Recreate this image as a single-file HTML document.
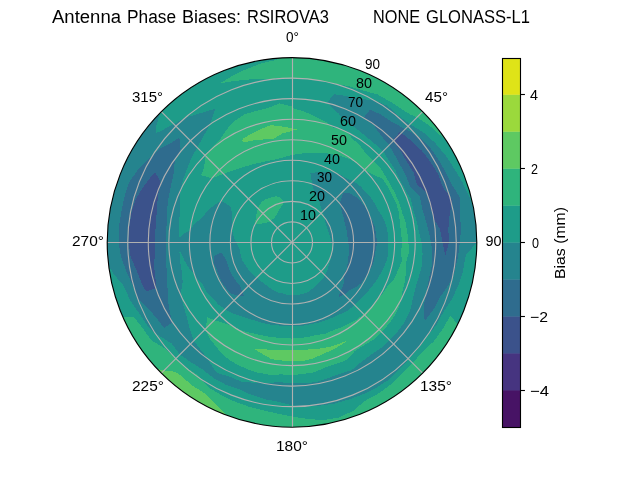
<!DOCTYPE html>
<html><head><meta charset="utf-8"><title>Antenna Phase Biases</title>
<style>
html,body{margin:0;padding:0;background:#fff;}
body{width:640px;height:480px;overflow:hidden;font-family:"Liberation Sans",sans-serif;}
svg{display:block;}
svg text{font-family:"Liberation Sans",sans-serif;fill:#000;}
</style></head><body>
<svg width="640" height="480" viewBox="0 0 640 480">
<rect x="0" y="0" width="640" height="480" fill="#fff"/>
<defs><clipPath id="disc"><circle cx="292.0" cy="242.4" r="184.8"/></clipPath></defs>
<g clip-path="url(#disc)" shape-rendering="crispEdges">
<circle cx="292.0" cy="242.4" r="184.8" fill="#1e9c89"/>
<path fill="#3b528b" fill-rule="evenodd" d="M393.44 140.96L400.78 151.12L406.98 161.89L413.49 172.26L416.76 184.22L427.00 193.07L427.23 193.18L427.49 194.43L429.99 205.43L433.35 217.48L433.77 218.71L440.12 229.44L442.49 242.40L445.41 255.82L445.41 255.82L445.41 255.82L448.81 242.40L448.38 228.72L449.62 214.61L451.73 204.05L451.78 199.59L449.63 196.18L442.90 187.48L438.11 174.27L430.75 162.30L422.25 151.20L412.18 141.56L401.41 132.99L399.46 132.09L393.05 140.18ZM155.54 278.96L154.12 266.71L154.78 254.41L154.87 242.40L155.39 230.45L156.35 218.48L156.94 206.21L158.31 193.74L160.76 183.80L159.87 180.79L155.06 171.95L151.12 176.71L142.49 187.98L135.17 200.38L131.15 214.04L129.25 228.16L128.63 242.40L130.52 256.53L136.36 269.84L141.45 282.74L146.02 291.45L155.75 288.18Z"/>
<path fill="#2f6c8e" fill-rule="evenodd" d="M341.00 208.09L342.35 213.33L343.85 218.22L344.69 223.22L346.16 227.89L346.88 232.72L347.68 237.53L348.30 242.40L349.09 247.39L348.94 252.44L348.42 257.52L347.66 262.66L346.78 267.94L344.55 272.74L343.82 275.70L343.86 278.71L343.39 285.52L340.21 290.61L338.88 296.87L344.22 294.62L349.22 290.41L355.88 287.13L361.71 282.64L365.65 276.74L368.08 273.35L369.44 270.58L373.05 264.12L374.49 256.95L375.79 249.73L377.20 242.40L376.02 235.05L375.11 227.75L372.36 220.87L369.27 214.27L368.55 212.63L365.70 208.03L361.39 202.34L356.43 197.29L350.22 193.55L343.62 192.40L339.97 202.14L339.96 203.74ZM242.36 292.04L240.11 285.94L236.27 281.42L232.91 276.51L230.15 271.24L227.90 265.73L226.11 260.06L222.76 254.61L220.87 252.65L214.09 256.14L213.54 263.42L216.86 269.75L219.06 276.41L222.07 282.77L226.31 288.39L230.79 293.76L238.76 295.64L243.77 295.68ZM400.82 166.21L406.28 176.42L410.50 187.14L415.64 192.14L419.89 195.85L421.87 207.60L425.30 218.90L428.43 230.46L431.05 242.40L432.51 254.69L431.62 267.02L428.86 279.07L426.58 291.38L425.30 296.17L424.16 304.03L424.43 318.86L424.72 320.52L425.82 319.66L434.01 308.62L440.48 296.44L448.87 284.43L452.44 277.65L454.69 271.09L457.89 256.91L459.94 242.40L461.09 227.61L459.67 212.84L459.78 197.44L451.74 184.26L444.98 171.06L437.74 158.25L429.20 146.33L418.33 136.39L416.65 135.41L405.38 129.02L392.63 122.47L381.35 114.79L370.07 109.66L365.35 115.36L363.73 117.84L363.83 117.98L373.95 125.36L381.31 135.97L389.16 145.24L395.22 155.79L398.97 162.58ZM393.05 140.18L399.46 132.09L401.41 132.99L412.18 141.56L422.25 151.20L430.75 162.30L438.11 174.27L442.90 187.48L449.63 196.18L451.78 199.59L451.73 204.05L449.62 214.61L448.38 228.72L448.81 242.40L445.41 255.82L445.41 255.82L445.41 255.82L442.49 242.40L440.12 229.44L433.77 218.71L433.35 217.48L429.99 205.43L427.49 194.43L427.23 193.18L427.00 193.07L416.76 184.22L413.49 172.26L406.98 161.89L400.78 151.12L393.44 140.96ZM167.51 287.71L167.28 275.82L166.10 264.60L165.96 253.43L165.92 242.40L166.33 231.41L166.73 220.31L167.13 208.94L168.61 197.49L170.89 186.32L170.97 185.96L173.54 174.01L174.90 160.40L178.46 154.26L180.58 148.91L179.37 137.37L172.46 142.09L158.97 149.25L151.80 156.80L147.89 159.20L137.37 170.29L128.80 183.00L124.23 197.45L121.25 212.29L118.76 227.24L118.54 242.40L121.18 257.34L126.50 271.58L132.51 285.14L136.01 293.88L138.16 298.39L148.78 309.18L157.95 319.79L163.96 327.97L172.59 322.40L169.94 312.87L167.99 300.23L167.87 291.44ZM155.75 288.18L146.02 291.45L141.45 282.74L136.36 269.84L130.52 256.53L128.63 242.40L129.25 228.16L131.15 214.04L135.17 200.38L142.49 187.98L151.12 176.71L155.06 171.95L159.87 180.79L160.76 183.80L158.31 193.74L156.94 206.21L156.35 218.48L155.39 230.45L154.87 242.40L154.78 254.41L154.12 266.71L155.54 278.96Z"/>
<path fill="#25848e" fill-rule="evenodd" d="M324.89 219.37L325.59 223.01L326.53 226.30L327.63 229.43L328.77 232.55L329.88 235.72L330.82 239.00L331.40 242.40L331.87 245.89L332.15 249.48L332.20 250.81L331.97 253.11L331.38 256.73L330.38 260.30L329.24 263.90L328.13 267.70L326.91 271.69L325.00 275.40L322.59 278.86L319.81 282.12L316.66 285.12L313.28 288.03L310.44 290.31L309.64 290.87L305.61 293.19L301.17 294.43L296.59 294.84L292.00 295.29L287.41 294.91L283.00 293.45L278.55 292.59L274.41 290.74L273.70 290.36L270.54 288.42L266.96 285.77L263.46 283.16L259.96 280.58L256.68 277.72L253.50 274.71L250.03 271.79L248.72 270.00L247.50 268.09L244.79 264.42L242.40 260.45L240.72 256.14L240.25 251.52L238.74 247.06L235.87 242.40L234.04 237.33L232.45 231.90L231.86 229.07L231.60 226.22L231.70 220.45L232.45 214.63L230.44 206.86L230.06 205.96L221.12 200.91L220.30 201.01L213.46 205.77L206.93 211.44L203.48 215.90L201.33 218.11L193.51 225.03L190.02 230.58L184.58 233.00L179.16 237.75L178.82 232.50L179.40 222.55L179.63 212.29L179.96 201.62L180.60 190.45L180.56 189.88L183.13 179.54L187.06 168.92L191.32 157.92L196.14 149.53L197.05 147.45L203.33 136.73L209.64 124.78L210.17 124.24L215.19 109.37L215.17 108.93L214.87 108.81L201.36 112.95L186.91 117.16L184.47 118.22L173.67 124.07L159.87 131.53L155.88 133.16L155.59 127.94L160.25 112.82L150.43 123.61L140.62 136.40L131.96 150.00L124.51 164.30L118.34 179.19L113.50 194.57L110.01 210.31L107.90 226.29L107.20 242.40L107.90 258.51L108.59 265.06L113.43 273.89L122.58 284.34L124.22 287.36L130.65 301.13L139.32 313.60L147.57 325.79L154.87 332.83L158.94 335.57L171.55 343.47L179.84 354.56L191.26 362.46L202.89 369.66L213.65 378.11L225.68 384.63L238.63 389.04L251.19 394.72L264.37 399.12L278.06 401.71L292.00 405.19L300.61 406.44L306.37 406.62L320.77 405.58L335.15 403.45L349.17 399.47L362.86 394.36L376.07 388.02L388.34 379.99L398.91 369.82L408.74 359.14L418.13 348.24L426.77 336.77L435.97 325.52L442.98 312.80L451.25 300.36L457.73 286.81L462.74 272.51L465.26 257.56L466.08 255.01L476.80 242.45L476.80 242.40L476.10 226.29L473.99 210.31L473.71 208.73L468.62 195.08L461.61 180.67L453.30 167.18L444.70 154.24L436.99 145.24L434.72 142.47L423.20 132.31L410.05 124.35L398.41 115.59L387.63 105.83L374.35 100.26L374.09 100.22L358.92 98.90L345.34 95.85L334.18 94.29L330.64 98.18L327.02 103.00L328.94 104.55L338.82 113.77L344.17 119.55L348.03 122.23L357.21 129.46L366.14 136.52L374.72 143.82L383.16 151.24L389.22 160.82L395.32 170.06L400.09 179.99L405.16 189.63L410.92 199.12L413.25 209.91L416.44 220.46L418.90 231.30L421.52 242.40L422.55 253.82L422.02 265.33L418.88 276.40L415.55 287.37L412.85 298.75L412.76 299.23L410.19 310.64L405.02 321.54L397.91 331.27L389.70 340.10L380.81 348.23L370.76 354.89L361.14 362.15L351.58 370.17L339.88 373.95L328.32 377.93L316.64 382.14L304.32 383.17L292.00 383.36L279.78 382.13L267.22 382.96L258.85 382.26L254.37 382.82L241.36 381.52L229.40 376.65L216.72 372.78L208.76 361.28L208.30 359.25L201.27 350.52L193.74 340.66L189.50 328.41L189.34 327.69L186.46 316.30L183.38 305.11L180.66 295.15L180.69 294.31L182.71 282.18L181.74 271.94L180.24 262.11L179.45 252.25L179.44 251.58L180.64 252.14L184.83 261.30L190.02 269.72L194.49 274.54L195.93 277.37L202.37 284.19L206.28 291.89L212.52 298.06L218.22 304.31L225.09 309.31L232.47 313.34L233.15 313.63L240.45 316.02L248.08 318.48L255.45 320.77L262.68 322.96L270.01 324.46L277.39 325.26L284.66 326.29L292.00 325.93L299.32 326.03L306.59 325.13L313.73 323.51L320.97 322.00L327.89 319.36L334.92 316.73L341.74 313.43L348.73 310.00L354.63 305.03L360.24 299.66L365.87 294.13L370.71 287.84L375.54 281.87L375.84 281.50L380.12 274.47L384.07 267.07L387.27 259.20L388.11 250.81L388.37 242.40L387.92 234.01L386.24 225.78L383.12 217.99L379.15 211.69L378.66 210.86L374.95 203.72L370.35 197.16L365.15 191.18L359.66 185.63L353.28 181.12L346.02 178.03L339.61 174.40L336.14 173.14L332.40 172.42L324.72 172.22L317.53 172.26L310.64 172.83L310.44 172.94L310.47 173.48L312.09 184.17L312.48 186.12L314.88 193.33L318.19 197.04L318.92 198.69L319.76 202.75L321.06 207.77L322.62 211.78L324.02 215.53L324.72 217.58ZM339.96 203.74L339.97 202.14L343.62 192.40L350.22 193.55L356.43 197.29L361.39 202.34L365.70 208.03L368.55 212.63L369.27 214.27L372.36 220.87L375.11 227.75L376.02 235.05L377.20 242.40L375.79 249.73L374.49 256.95L373.05 264.12L369.44 270.58L368.08 273.35L365.65 276.74L361.71 282.64L355.88 287.13L349.22 290.41L344.22 294.62L338.88 296.87L340.21 290.61L343.39 285.52L343.86 278.71L343.82 275.70L344.55 272.74L346.78 267.94L347.66 262.66L348.42 257.52L348.94 252.44L349.09 247.39L348.30 242.40L347.68 237.53L346.88 232.72L346.16 227.89L344.69 223.22L343.85 218.22L342.35 213.33L341.00 208.09ZM243.77 295.68L238.76 295.64L230.79 293.76L226.31 288.39L222.07 282.77L219.06 276.41L216.86 269.75L213.54 263.42L214.09 256.14L220.87 252.65L222.76 254.61L226.11 260.06L227.90 265.73L230.15 271.24L232.91 276.51L236.27 281.42L240.11 285.94L242.36 292.04ZM398.97 162.58L395.22 155.79L389.16 145.24L381.31 135.97L373.95 125.36L363.83 117.98L363.73 117.84L365.35 115.36L370.07 109.66L381.35 114.79L392.63 122.47L405.38 129.02L416.65 135.41L418.33 136.39L429.20 146.33L437.74 158.25L444.98 171.06L451.74 184.26L459.78 197.44L459.67 212.84L461.09 227.61L459.94 242.40L457.89 256.91L454.69 271.09L452.44 277.65L448.87 284.43L440.48 296.44L434.01 308.62L425.82 319.66L424.72 320.52L424.43 318.86L424.16 304.03L425.30 296.17L426.58 291.38L428.86 279.07L431.62 267.02L432.51 254.69L431.05 242.40L428.43 230.46L425.30 218.90L421.87 207.60L419.89 195.85L415.64 192.14L410.50 187.14L406.28 176.42L400.82 166.21ZM167.87 291.44L167.99 300.23L169.94 312.87L172.59 322.40L163.96 327.97L157.95 319.79L148.78 309.18L138.16 298.39L136.01 293.88L132.51 285.14L126.50 271.58L121.18 257.34L118.54 242.40L118.76 227.24L121.25 212.29L124.23 197.45L128.80 183.00L137.37 170.29L147.89 159.20L151.80 156.80L158.97 149.25L172.46 142.09L179.37 137.37L180.58 148.91L178.46 154.26L174.90 160.40L173.54 174.01L170.97 185.96L170.89 186.32L168.61 197.49L167.13 208.94L166.73 220.31L166.33 231.41L165.92 242.40L165.96 253.43L166.10 264.60L167.28 275.82L167.51 287.71Z"/>
<path fill="#1e9c89" fill-rule="evenodd" d="M292.00 242.40L292.00 242.40L292.00 242.40L292.00 242.40L292.00 242.40L292.00 242.40L292.00 242.40L292.00 242.40L292.00 242.40L292.00 242.40L292.00 242.40L292.00 242.40L292.00 242.40L292.00 242.40L292.00 242.40L292.00 242.40L292.00 242.40L292.00 242.40L292.00 242.40L292.00 242.40L292.00 242.40L292.00 242.40L292.00 242.40L292.00 242.40L292.00 242.40L292.00 242.40L292.00 242.40L292.00 242.40L292.00 242.40L292.00 242.40L292.00 242.40L292.00 242.40L292.00 242.40L292.00 242.40L292.00 242.40L292.00 242.40L292.00 242.40L292.00 242.40L292.00 242.40L292.00 242.40L292.00 242.40L292.00 242.40L292.00 242.40L292.00 242.40L292.00 242.40L292.00 242.40L292.00 242.40L292.00 242.40L292.00 242.40L292.00 242.40L292.00 242.40L292.00 242.40L292.00 242.40L292.00 242.40L292.00 242.40L292.00 242.40L292.00 242.40L292.00 242.40L292.00 242.40L292.00 242.40L292.00 242.40L292.00 242.40L292.00 242.40L292.00 242.40L292.00 242.40L292.00 242.40L292.00 242.40L292.00 242.40L292.00 242.40L292.00 242.40L292.00 242.40L292.00 242.40L292.00 232.13L292.00 221.87L292.00 211.60L292.00 201.33L292.00 191.07L292.00 180.80L292.00 170.53L292.00 160.27L292.00 154.84L284.52 156.96L277.31 159.07L270.03 160.41L262.77 162.08L255.31 163.71L247.74 165.73L240.00 168.14L234.77 169.85L231.89 170.76L223.58 173.98L214.45 177.32L211.85 178.24L201.26 175.17L203.86 168.45L205.66 156.06L206.80 153.41L212.24 147.35L219.90 139.43L226.76 129.40L232.80 122.78L235.16 120.50L245.26 113.97L256.74 110.83L268.27 107.82L279.83 103.35L292.00 106.61L292.00 98.67L292.00 88.40L292.00 79.47L284.83 78.29L277.65 78.37L263.23 79.22L248.36 79.53L233.29 81.08L220.22 83.31L231.53 76.27L245.66 69.44L260.48 63.62L276.04 59.94L279.76 58.01L275.89 58.30L259.91 60.41L244.17 63.90L228.79 68.74L213.90 74.91L199.60 82.36L186.00 91.02L173.21 100.83L161.33 111.73L160.25 112.82L155.59 127.94L155.88 133.16L159.87 131.53L173.67 124.07L184.47 118.22L186.91 117.16L201.36 112.95L214.87 108.81L215.17 108.93L215.19 109.37L210.17 124.24L209.64 124.78L203.33 136.73L197.05 147.45L196.14 149.53L191.32 157.92L187.06 168.92L183.13 179.54L180.56 189.88L180.60 190.45L179.96 201.62L179.63 212.29L179.40 222.55L178.82 232.50L179.16 237.75L184.58 233.00L190.02 230.58L193.51 225.03L201.33 218.11L203.48 215.90L206.93 211.44L213.46 205.77L220.30 201.01L221.12 200.91L230.06 205.96L230.44 206.86L232.45 214.63L231.70 220.45L231.60 226.22L231.86 229.07L232.45 231.90L234.04 237.33L235.87 242.40L238.74 247.06L240.25 251.52L240.72 256.14L242.40 260.45L244.79 264.42L247.50 268.09L248.72 270.00L250.03 271.79L253.50 274.71L256.68 277.72L259.96 280.58L263.46 283.16L266.96 285.77L270.54 288.42L273.70 290.36L274.41 290.74L278.55 292.59L283.00 293.45L287.41 294.91L292.00 295.29L296.59 294.84L301.17 294.43L305.61 293.19L309.64 290.87L310.44 290.31L313.28 288.03L316.66 285.12L319.81 282.12L322.59 278.86L325.00 275.40L326.91 271.69L328.13 267.70L329.24 263.90L330.38 260.30L331.38 256.73L331.97 253.11L332.20 250.81L332.15 249.48L331.87 245.89L331.40 242.40L330.82 239.00L329.88 235.72L328.77 232.55L327.63 229.43L326.53 226.30L325.59 223.01L324.89 219.37L324.72 217.58L324.02 215.53L322.62 211.78L321.06 207.77L319.76 202.75L318.92 198.69L318.19 197.04L314.88 193.33L312.48 186.12L312.09 184.17L310.47 173.48L310.44 172.94L310.64 172.83L317.53 172.26L324.72 172.22L332.40 172.42L336.14 173.14L339.61 174.40L346.02 178.03L353.28 181.12L359.66 185.63L365.15 191.18L370.35 197.16L374.95 203.72L378.66 210.86L379.15 211.69L383.12 217.99L386.24 225.78L387.92 234.01L388.37 242.40L388.11 250.81L387.27 259.20L384.07 267.07L380.12 274.47L375.84 281.50L375.54 281.87L370.71 287.84L365.87 294.13L360.24 299.66L354.63 305.03L348.73 310.00L341.74 313.43L334.92 316.73L327.89 319.36L320.97 322.00L313.73 323.51L306.59 325.13L299.32 326.03L292.00 325.93L284.66 326.29L277.39 325.26L270.01 324.46L262.68 322.96L255.45 320.77L248.08 318.48L240.45 316.02L233.15 313.63L232.47 313.34L225.09 309.31L218.22 304.31L212.52 298.06L206.28 291.89L202.37 284.19L195.93 277.37L194.49 274.54L190.02 269.72L184.83 261.30L180.64 252.14L179.44 251.58L179.45 252.25L180.24 262.11L181.74 271.94L182.71 282.18L180.69 294.31L180.66 295.15L183.38 305.11L186.46 316.30L189.34 327.69L189.50 328.41L193.74 340.66L201.27 350.52L208.30 359.25L208.76 361.28L216.72 372.78L229.40 376.65L241.36 381.52L254.37 382.82L258.85 382.26L267.22 382.96L279.78 382.13L292.00 383.36L304.32 383.17L316.64 382.14L328.32 377.93L339.88 373.95L351.58 370.17L361.14 362.15L370.76 354.89L380.81 348.23L389.70 340.10L397.91 331.27L405.02 321.54L410.19 310.64L412.76 299.23L412.85 298.75L415.55 287.37L418.88 276.40L422.02 265.33L422.55 253.82L421.52 242.40L418.90 231.30L416.44 220.46L413.25 209.91L410.92 199.12L405.16 189.63L400.09 179.99L395.32 170.06L389.22 160.82L383.16 151.24L374.72 143.82L366.14 136.52L357.21 129.46L348.03 122.23L344.17 119.55L338.82 113.77L328.94 104.55L327.02 103.00L330.64 98.18L334.18 94.29L345.34 95.85L358.92 98.90L374.09 100.22L374.35 100.26L387.63 105.83L398.41 115.59L410.05 124.35L423.20 132.31L434.72 142.47L436.99 145.24L444.70 154.24L453.30 167.18L461.61 180.67L468.62 195.08L473.71 208.73L470.50 194.57L465.66 179.19L459.49 164.30L452.04 150.00L446.08 140.37L442.39 137.10L430.26 126.39L417.19 117.21L411.26 114.97L403.06 110.04L390.48 101.76L377.42 94.45L362.83 90.50L348.86 86.18L334.61 83.38L325.06 81.49L320.50 80.77L306.28 79.20L292.00 79.47L292.00 88.40L292.00 98.67L292.00 106.61L294.70 108.96L303.48 111.24L314.30 115.92L324.50 121.12L330.93 125.51L333.65 127.98L338.70 128.40L344.38 130.07L347.15 132.23L352.05 138.38L359.91 145.42L366.26 153.90L373.63 160.77L380.50 168.14L385.78 176.74L390.82 185.35L395.49 194.14L399.36 203.32L402.26 212.86L405.57 222.37L407.27 232.32L408.43 242.40L409.03 252.64L405.92 262.49L405.94 272.93L404.45 283.33L401.97 293.68L401.99 297.91L399.78 304.62L395.36 314.77L388.92 323.72L381.83 332.23L373.65 339.71L363.99 345.21L354.80 351.18L346.81 359.95L336.19 363.82L325.45 367.25L314.88 372.19L303.51 373.92L292.00 375.23L280.46 374.34L275.25 374.81L268.68 374.67L257.16 372.44L246.03 368.71L235.46 363.64L231.99 361.61L225.79 357.07L217.63 348.62L210.45 339.58L205.55 330.17L205.86 328.54L207.22 317.01L214.20 320.20L224.19 323.21L231.76 325.54L233.35 326.16L241.18 330.42L249.91 332.65L258.44 334.60L266.81 336.40L275.24 337.45L283.62 338.15L292.00 338.55L300.36 338.00L308.66 336.91L316.80 334.94L325.22 333.66L333.02 330.38L341.14 327.52L348.91 323.68L356.77 319.59L363.73 314.13L370.10 307.93L375.74 301.04L378.50 297.69L382.07 294.40L387.21 286.80L393.72 279.42L397.82 270.75L401.71 261.74L401.29 251.96L401.82 242.40L401.30 232.84L399.82 223.39L399.19 213.68L396.49 204.37L392.49 195.54L387.95 187.00L382.76 178.85L372.88 174.53L366.04 171.27L364.32 170.08L357.78 164.01L350.29 159.15L341.62 156.45L332.98 154.52L324.59 152.86L315.91 153.15L315.91 153.15L307.80 152.77L299.75 153.85L292.00 154.84L292.00 160.27L292.00 170.53L292.00 180.80L292.00 191.07L292.00 201.33L292.00 211.60L292.00 221.87L292.00 232.13L292.00 242.40ZM269.17 221.72L268.04 222.30L264.40 223.08L259.74 223.77L255.36 223.86L255.26 221.19L255.89 217.11L256.68 212.77L257.88 208.28L259.94 204.20L262.93 200.89L266.79 198.74L271.12 197.62L275.26 196.41L279.73 196.60L283.80 202.16L282.12 205.52L279.75 208.76L277.88 212.11L276.33 215.26L275.45 216.43L274.63 217.60L272.62 219.31L270.49 220.89ZM292.00 405.19L278.06 401.71L264.37 399.12L251.19 394.72L238.63 389.04L225.68 384.63L213.65 378.11L202.89 369.66L191.26 362.46L179.84 354.56L171.55 343.47L158.94 335.57L154.87 332.83L147.57 325.79L139.32 313.60L130.65 301.13L124.22 287.36L122.58 284.34L113.43 273.89L108.59 265.06L110.01 274.49L113.50 290.23L118.34 305.61L122.74 316.58L130.88 317.53L134.40 317.39L142.80 328.54L151.66 340.67L165.40 348.63L175.79 358.61L176.62 359.33L186.77 367.81L198.57 375.83L201.26 379.33L208.33 387.32L220.93 394.80L234.15 401.35L248.05 406.42L262.41 410.22L277.04 413.41L292.00 416.56L294.72 416.91L307.45 418.95L323.34 420.14L338.92 417.51L353.28 410.76L364.82 401.02L365.68 400.40L379.06 393.19L391.17 384.04L402.15 373.67L412.67 363.07L422.38 351.81L433.62 341.57L442.53 329.31L450.10 316.12L450.29 315.92L451.14 316.61L457.69 324.25L459.49 320.50L465.66 305.61L470.50 290.23L473.99 274.49L476.10 258.51L476.80 242.45L466.08 255.01L465.26 257.56L462.74 272.51L457.73 286.81L451.25 300.36L442.98 312.80L435.97 325.52L426.77 336.77L418.13 348.24L408.74 359.14L398.91 369.82L388.34 379.99L376.07 388.02L362.86 394.36L349.17 399.47L335.15 403.45L320.77 405.58L306.37 406.62L300.61 406.44Z"/>
<path fill="#2fb47c" fill-rule="evenodd" d="M270.49 220.89L272.62 219.31L274.63 217.60L275.45 216.43L276.33 215.26L277.88 212.11L279.75 208.76L282.12 205.52L283.80 202.16L279.73 196.60L275.26 196.41L271.12 197.62L266.79 198.74L262.93 200.89L259.94 204.20L257.88 208.28L256.68 212.77L255.89 217.11L255.26 221.19L255.36 223.86L259.74 223.77L264.40 223.08L268.04 222.30L269.17 221.72ZM299.75 153.85L307.80 152.77L315.91 153.15L315.91 153.15L324.59 152.86L332.98 154.52L341.62 156.45L350.29 159.15L357.78 164.01L364.32 170.08L366.04 171.27L372.88 174.53L382.76 178.85L387.95 187.00L392.49 195.54L396.49 204.37L399.19 213.68L399.82 223.39L401.30 232.84L401.82 242.40L401.29 251.96L401.71 261.74L397.82 270.75L393.72 279.42L387.21 286.80L382.07 294.40L378.50 297.69L375.74 301.04L370.10 307.93L363.73 314.13L356.77 319.59L348.91 323.68L341.14 327.52L333.02 330.38L325.22 333.66L316.80 334.94L308.66 336.91L300.36 338.00L292.00 338.55L283.62 338.15L275.24 337.45L266.81 336.40L258.44 334.60L249.91 332.65L241.18 330.42L233.35 326.16L231.76 325.54L224.19 323.21L214.20 320.20L207.22 317.01L205.86 328.54L205.55 330.17L210.45 339.58L217.63 348.62L225.79 357.07L231.99 361.61L235.46 363.64L246.03 368.71L257.16 372.44L268.68 374.67L275.25 374.81L280.46 374.34L292.00 375.23L303.51 373.92L314.88 372.19L325.45 367.25L336.19 363.82L346.81 359.95L354.80 351.18L363.99 345.21L373.65 339.71L381.83 332.23L388.92 323.72L395.36 314.77L399.78 304.62L401.99 297.91L401.97 293.68L404.45 283.33L405.94 272.93L405.92 262.49L409.03 252.64L408.43 242.40L407.27 232.32L405.57 222.37L402.26 212.86L399.36 203.32L395.49 194.14L390.82 185.35L385.78 176.74L380.50 168.14L373.63 160.77L366.26 153.90L359.91 145.42L352.05 138.38L347.15 132.23L344.38 130.07L338.70 128.40L333.65 127.98L330.93 125.51L324.50 121.12L314.30 115.92L303.48 111.24L294.70 108.96L292.00 106.61L292.00 108.93L292.00 119.20L292.00 128.11L297.57 129.60L292.00 130.84L292.00 139.73L292.00 150.00L292.00 154.84ZM348.47 340.20L340.14 345.63L331.27 350.30L322.00 354.37L312.51 358.72L302.39 361.11L292.00 361.54L281.66 360.53L271.42 359.12L262.15 353.81L253.37 348.52L263.35 349.33L273.05 349.85L282.59 349.92L292.00 350.22L301.38 349.60L310.88 349.46L320.41 348.43L329.98 346.76L339.24 343.71ZM240.00 168.14L247.74 165.73L255.31 163.71L262.77 162.08L270.03 160.41L277.31 159.07L284.52 156.96L292.00 154.84L292.00 150.00L292.00 139.73L292.00 130.84L282.47 133.49L273.71 138.64L264.40 139.39L254.81 140.22L245.20 142.04L242.03 141.12L243.52 138.44L252.28 133.28L261.50 128.57L271.32 125.14L281.85 126.42L292.00 128.11L292.00 119.20L292.00 108.93L292.00 106.61L279.83 103.35L268.27 107.82L256.74 110.83L245.26 113.97L235.16 120.50L232.80 122.78L226.76 129.40L219.90 139.43L212.24 147.35L206.80 153.41L205.66 156.06L203.86 168.45L201.26 175.17L211.85 178.24L214.45 177.32L223.58 173.98L231.89 170.76L234.77 169.85ZM306.28 79.20L320.50 80.77L325.06 81.49L334.61 83.38L348.86 86.18L362.83 90.50L377.42 94.45L390.48 101.76L403.06 110.04L411.26 114.97L417.19 117.21L430.26 126.39L442.39 137.10L446.08 140.37L443.38 136.40L433.57 123.61L422.67 111.73L410.79 100.83L398.00 91.02L384.40 82.36L370.10 74.91L355.21 68.74L339.83 63.90L324.09 60.41L308.11 58.30L292.00 57.60L292.00 67.87L292.00 78.13L292.00 79.47ZM198.57 375.83L186.77 367.81L176.62 359.33L175.79 358.61L165.40 348.63L151.66 340.67L142.80 328.54L134.40 317.39L130.88 317.53L122.74 316.58L124.51 320.50L131.96 334.80L140.62 348.40L150.43 361.19L157.13 368.74L164.05 370.35L174.84 371.77L180.49 375.29L191.93 385.32L204.84 393.37L206.62 394.63L216.24 404.86L226.14 415.06L228.79 416.06L244.17 420.90L259.91 424.39L275.89 426.50L292.00 427.20L308.11 426.50L324.09 424.39L339.83 420.90L355.21 416.06L370.10 409.89L384.40 402.44L398.00 393.78L410.79 383.97L422.67 373.07L433.57 361.19L443.38 348.40L452.04 334.80L457.69 324.25L451.14 316.61L450.29 315.92L450.10 316.12L442.53 329.31L433.62 341.57L422.38 351.81L412.67 363.07L402.15 373.67L391.17 384.04L379.06 393.19L365.68 400.40L364.82 401.02L353.28 410.76L338.92 417.51L323.34 420.14L307.45 418.95L294.72 416.91L292.00 416.56L277.04 413.41L262.41 410.22L248.05 406.42L234.15 401.35L220.93 394.80L208.33 387.32L201.26 379.33ZM292.00 79.47L292.00 78.13L292.00 67.87L292.00 57.60L279.76 58.01L276.04 59.94L260.48 63.62L245.66 69.44L231.53 76.27L220.22 83.31L233.29 81.08L248.36 79.53L263.23 79.22L277.65 78.37L284.83 78.29Z"/>
<path fill="#5ec962" fill-rule="evenodd" d="M297.57 129.60L292.00 128.11L292.00 129.47L292.00 130.84ZM339.24 343.71L329.98 346.76L320.41 348.43L310.88 349.46L301.38 349.60L292.00 350.22L282.59 349.92L273.05 349.85L263.35 349.33L253.37 348.52L262.15 353.81L271.42 359.12L281.66 360.53L292.00 361.54L302.39 361.11L312.51 358.72L322.00 354.37L331.27 350.30L340.14 345.63L348.47 340.20ZM245.20 142.04L254.81 140.22L264.40 139.39L273.71 138.64L282.47 133.49L292.00 130.84L292.00 129.47L292.00 128.11L281.85 126.42L271.32 125.14L261.50 128.57L252.28 133.28L243.52 138.44L242.03 141.12ZM204.84 393.37L191.93 385.32L180.49 375.29L174.84 371.77L164.05 370.35L157.13 368.74L161.33 373.07L173.21 383.97L186.00 393.78L199.60 402.44L213.90 409.89L226.14 415.06L216.24 404.86L206.62 394.63Z"/>
</g>
<g fill="none" stroke="#b0b0b0" stroke-width="1.11" clip-path="url(#disc)">
<circle cx="292.0" cy="242.4" r="20.533"/>
<circle cx="292.0" cy="242.4" r="41.067"/>
<circle cx="292.0" cy="242.4" r="61.600"/>
<circle cx="292.0" cy="242.4" r="82.133"/>
<circle cx="292.0" cy="242.4" r="102.667"/>
<circle cx="292.0" cy="242.4" r="123.200"/>
<circle cx="292.0" cy="242.4" r="143.733"/>
<circle cx="292.0" cy="242.4" r="164.267"/>
<line x1="292.50" y1="242.40" x2="292.50" y2="57.60"/>
<line x1="292.00" y1="242.40" x2="422.67" y2="111.73"/>
<line x1="292.00" y1="242.50" x2="476.80" y2="242.50"/>
<line x1="292.00" y1="242.40" x2="422.67" y2="373.07"/>
<line x1="292.50" y1="242.40" x2="292.50" y2="427.20"/>
<line x1="292.00" y1="242.40" x2="161.33" y2="373.07"/>
<line x1="292.00" y1="242.50" x2="107.20" y2="242.50"/>
<line x1="292.00" y1="242.40" x2="161.33" y2="111.73"/>
</g>
<circle cx="292.0" cy="242.4" r="184.8" fill="none" stroke="#000" stroke-width="1.11"/>
<g style="filter:grayscale(1)"><text x="485.40" y="246.00" font-size="14.60" textLength="21.80" lengthAdjust="spacingAndGlyphs">90°</text></g>
<g>
<rect x="502.50" y="390.04" width="18.00" height="37.36" fill="#471365"/>
<rect x="502.50" y="353.08" width="18.00" height="37.36" fill="#463480"/>
<rect x="502.50" y="316.12" width="18.00" height="37.36" fill="#3b528b"/>
<rect x="502.50" y="279.16" width="18.00" height="37.36" fill="#2f6c8e"/>
<rect x="502.50" y="242.20" width="18.00" height="37.36" fill="#25848e"/>
<rect x="502.50" y="205.24" width="18.00" height="37.36" fill="#1e9c89"/>
<rect x="502.50" y="168.28" width="18.00" height="37.36" fill="#2fb47c"/>
<rect x="502.50" y="131.32" width="18.00" height="37.36" fill="#5ec962"/>
<rect x="502.50" y="94.36" width="18.00" height="37.36" fill="#9bd93c"/>
<rect x="502.50" y="58.50" width="18.00" height="36.26" fill="#dfe318"/>
<rect x="502.50" y="58.50" width="18.00" height="369.00" fill="none" stroke="#000" stroke-width="1.11"/>
<line x1="520.08" y1="390.50" x2="524.94" y2="390.50" stroke="#000" stroke-width="1.11"/>
<line x1="520.08" y1="316.50" x2="524.94" y2="316.50" stroke="#000" stroke-width="1.11"/>
<line x1="520.08" y1="242.50" x2="524.94" y2="242.50" stroke="#000" stroke-width="1.11"/>
<line x1="520.08" y1="168.50" x2="524.94" y2="168.50" stroke="#000" stroke-width="1.11"/>
<line x1="520.08" y1="94.50" x2="524.94" y2="94.50" stroke="#000" stroke-width="1.11"/>
</g>
<g style="filter:grayscale(1)">
<text x="52.00" y="23.00" font-size="17.60" textLength="69.00" lengthAdjust="spacingAndGlyphs">Antenna</text>
<text x="127.00" y="23.00" font-size="17.60" textLength="49.00" lengthAdjust="spacingAndGlyphs">Phase</text>
<text x="182.00" y="23.00" font-size="17.60" textLength="59.00" lengthAdjust="spacingAndGlyphs">Biases:</text>
<text x="247.00" y="23.00" font-size="17.60" textLength="82.00" lengthAdjust="spacingAndGlyphs">RSIROVA3</text>
<text x="373.00" y="23.00" font-size="17.60" textLength="47.00" lengthAdjust="spacingAndGlyphs">NONE</text>
<text x="426.00" y="23.00" font-size="17.60" textLength="104.00" lengthAdjust="spacingAndGlyphs">GLONASS-L1</text>
<text x="286.00" y="42.00" font-size="14.60" textLength="13.00" lengthAdjust="spacingAndGlyphs">0°</text>
<text x="425.00" y="102.00" font-size="14.60" textLength="23.00" lengthAdjust="spacingAndGlyphs">45°</text>
<text x="420.00" y="391.00" font-size="14.60" textLength="32.00" lengthAdjust="spacingAndGlyphs">135°</text>
<text x="276.00" y="451.00" font-size="14.60" textLength="32.00" lengthAdjust="spacingAndGlyphs">180°</text>
<text x="132.00" y="391.00" font-size="14.60" textLength="32.00" lengthAdjust="spacingAndGlyphs">225°</text>
<text x="72.00" y="246.00" font-size="14.60" textLength="32.00" lengthAdjust="spacingAndGlyphs">270°</text>
<text x="132.00" y="102.00" font-size="14.60" textLength="31.00" lengthAdjust="spacingAndGlyphs">315°</text>
<text x="300.00" y="220.00" font-size="14.60" textLength="16.00" lengthAdjust="spacingAndGlyphs">10</text>
<text x="309.00" y="201.00" font-size="14.60" textLength="16.00" lengthAdjust="spacingAndGlyphs">20</text>
<text x="317.00" y="182.00" font-size="14.60" textLength="15.00" lengthAdjust="spacingAndGlyphs">30</text>
<text x="324.00" y="164.00" font-size="14.60" textLength="16.00" lengthAdjust="spacingAndGlyphs">40</text>
<text x="331.00" y="145.00" font-size="14.60" textLength="16.00" lengthAdjust="spacingAndGlyphs">50</text>
<text x="340.00" y="126.00" font-size="14.60" textLength="16.00" lengthAdjust="spacingAndGlyphs">60</text>
<text x="348.00" y="107.00" font-size="14.60" textLength="15.00" lengthAdjust="spacingAndGlyphs">70</text>
<text x="356.00" y="88.00" font-size="14.60" textLength="16.00" lengthAdjust="spacingAndGlyphs">80</text>
<text x="365.00" y="69.00" font-size="14.60" textLength="15.00" lengthAdjust="spacingAndGlyphs">90</text>
<text x="530.00" y="396.00" font-size="14.60" textLength="19.00" lengthAdjust="spacingAndGlyphs">−4</text>
<text x="530.00" y="322.00" font-size="14.60" textLength="18.00" lengthAdjust="spacingAndGlyphs">−2</text>
<text x="532.00" y="248.00" font-size="14.60" textLength="7.00" lengthAdjust="spacingAndGlyphs">0</text>
<text x="531.00" y="174.00" font-size="14.60" textLength="7.00" lengthAdjust="spacingAndGlyphs">2</text>
<text x="530.00" y="100.00" font-size="14.60" textLength="8.00" lengthAdjust="spacingAndGlyphs">4</text>
<text transform="translate(565.00 279.00) rotate(-90)" font-size="14.60" textLength="72.00" lengthAdjust="spacingAndGlyphs">Bias (mm)</text>
</g>
</svg>
</body></html>
